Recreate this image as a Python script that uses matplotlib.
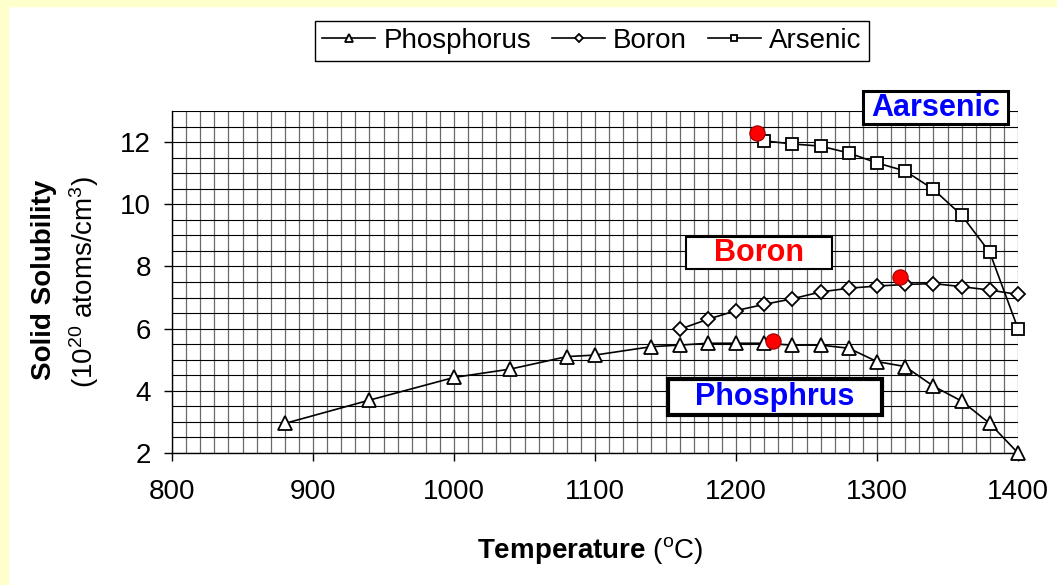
import matplotlib

matplotlib.use("Agg")
import matplotlib.pyplot as plt
from matplotlib.patches import Rectangle
from matplotlib.ticker import FixedLocator, MultipleLocator


plt.rcParams["font.family"] = ["Liberation Sans", "DejaVu Sans"]
plt.rcParams["mathtext.fontset"] = "custom"
plt.rcParams["mathtext.rm"] = "Liberation Sans"
plt.rcParams["mathtext.bf"] = "Liberation Sans:bold"
plt.rcParams["mathtext.it"] = "Liberation Sans:italic"
plt.rcParams["mathtext.default"] = "regular"

# data (temperature in C, solubility in 1e20 atoms/cm3)
PHOS_TEMP = [880, 940, 1000, 1040, 1080, 1100, 1140, 1160, 1180, 1200,
             1220, 1240, 1260, 1280, 1300, 1320, 1340, 1360, 1380, 1400]
PHOS_SOL = [2.95, 3.7, 4.43, 4.7, 5.1, 5.15, 5.42, 5.47, 5.53, 5.53,
            5.53, 5.47, 5.47, 5.37, 4.94, 4.78, 4.15, 3.67, 2.95, 2.0]

BORON_TEMP = [1160, 1180, 1200, 1220, 1240, 1260, 1280, 1300, 1320, 1340,
              1360, 1380, 1400]
BORON_SOL = [5.98, 6.3, 6.58, 6.78, 6.96, 7.18, 7.3, 7.37, 7.42, 7.45,
             7.35, 7.24, 7.1]

ARSENIC_TEMP = [1220, 1240, 1260, 1280, 1300, 1320, 1340, 1360, 1380, 1400]
ARSENIC_SOL = [12.04, 11.94, 11.87, 11.65, 11.33, 11.07, 10.48, 9.65, 8.45, 6.0]

# red highlight dots
PEAK_TEMP = [1215, 1316, 1226]
PEAK_SOL = [12.3, 7.67, 5.61]

SERIES = [
    ("Phosphorus", PHOS_TEMP, PHOS_SOL, "^", 10),
    ("Boron", BORON_TEMP, BORON_SOL, "D", 7.5),
    ("Arsenic", ARSENIC_TEMP, ARSENIC_SOL, "s", 8),
]

W, H = 1057, 585


def fx(px):
    return px / W


def fy(py):
    return 1 - py / H


def main():
    fig = plt.figure(figsize=(W / 100, H / 100), dpi=100)

    # pale yellow slide edges
    fig.patches.append(Rectangle((0, 0), fx(8), 1, transform=fig.transFigure,
                                 color="#FFFFCC", zorder=0))
    fig.patches.append(Rectangle((0, fy(6)), 1, 1, transform=fig.transFigure,
                                 color="#FFFFCC", zorder=0))

    ax = fig.add_axes([fx(172), fy(453), fx(1018 - 172), (453 - 111) / H])

    handles = []
    for name, temps, sols, marker, ms in SERIES:
        (h,) = ax.plot(temps, sols, color="black", linewidth=1.2,
                       marker=marker, markersize=ms, markerfacecolor="white",
                       markeredgecolor="black", markeredgewidth=1.3,
                       label=name, zorder=3, clip_on=False)
        handles.append(h)

    ax.plot(PEAK_TEMP, PEAK_SOL, linestyle="none", marker="o", markersize=11,
            markerfacecolor="#FF0000", markeredgecolor="#990000",
            markeredgewidth=0.8, zorder=4)

    ax.set_xlim(800, 1400)
    ax.set_ylim(2, 13)
    ax.xaxis.set_major_locator(MultipleLocator(100))
    ax.xaxis.set_minor_locator(MultipleLocator(10))
    ax.yaxis.set_major_locator(FixedLocator([2, 4, 6, 8, 10, 12]))
    ax.yaxis.set_minor_locator(MultipleLocator(0.5))

    ax.grid(which="both", axis="x", color="#6a6a6a", linewidth=0.9, zorder=1)
    ax.grid(which="both", axis="y", color="black", linewidth=0.8, zorder=1)
    ax.set_axisbelow(True)

    for side in ["top", "right"]:
        ax.spines[side].set_visible(False)
    for side in ["left", "bottom"]:
        ax.spines[side].set_linewidth(1.0)

    ax.tick_params(which="major", direction="out", length=6, width=1.0,
                   labelsize=20)
    ax.tick_params(which="minor", length=0)
    ax.tick_params(axis="y", which="major", pad=9)
    ax.tick_params(axis="x", which="major", pad=13)

    fig.text(fx(590), fy(551), r"$\mathbf{Temperature}$ ($^{o}$C)",
             ha="center", va="center", fontsize=20)
    fig.text(fx(44), fy(280), "Solid Solubility", rotation=90,
             ha="center", va="center", fontsize=20, fontweight="bold")
    fig.text(fx(84), fy(282), r"(10$^{20}$ atoms/cm$^{3}$)", rotation=90,
             ha="center", va="center", fontsize=20)

    fig.legend(handles=handles, loc="center", bbox_to_anchor=(fx(592), fy(41)),
               ncol=3, fontsize=20, frameon=True, fancybox=False,
               edgecolor="black", framealpha=1, markerscale=0.55,
               handlelength=1.9, handletextpad=0.3, columnspacing=0.75,
               borderpad=0.25)

    # label boxes (pixel positions from the chart)
    boxes = [
        ("Aarsenic", 863, 91, 1008, 124, "#0000FF", 2.2),
        ("Boron", 686, 237, 832, 269, "#FF0000", 1.5),
        ("Phosphrus", 668, 379, 882, 415, "#0000FF", 3.0),
    ]
    for text, x0, y0, x1, y1, color, lw in boxes:
        fig.patches.append(Rectangle((fx(x0), fy(y1)), fx(x1 - x0), (y1 - y0) / H,
                                     transform=fig.transFigure, facecolor="white",
                                     edgecolor="black", linewidth=lw, zorder=5))
        fig.text(fx((x0 + x1) / 2), fy((y0 + y1) / 2), text, ha="center",
                 va="center", fontsize=22, fontweight="bold", color=color,
                 zorder=6)

    fig.savefig("out.png", dpi=100)
    plt.close(fig)


if __name__ == "__main__":
    main()
